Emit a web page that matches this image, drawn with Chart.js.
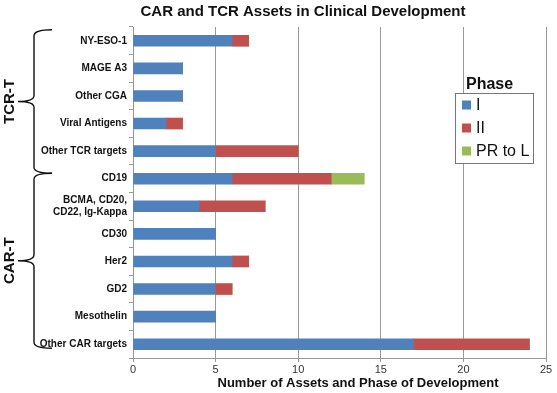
<!DOCTYPE html>
<html>
<head>
<meta charset="utf-8">
<script src="https://cdn.jsdelivr.net/npm/chart.js@4/dist/chart.umd.min.js"></script>
<style>
  body { margin: 0; background: #fff; }
  canvas { display: block; }
</style>
</head>
<body>
<canvas id="chart" width="557" height="393"></canvas>
<script>
var categories = ['NY-ESO-1', 'MAGE A3', 'Other CGA', 'Viral Antigens', 'Other TCR targets', 'CD19',
  ['BCMA, CD20,', 'CD22, Ig-Kappa'], 'CD30', 'Her2', 'GD2', 'Mesothelin', 'Other CAR targets'];
var phaseI = [6, 3, 3, 2, 5, 6, 4, 5, 6, 5, 5, 17];
var phaseII = [1, 0, 0, 1, 5, 6, 4, 0, 1, 1, 0, 7];
var phasePRtoL = [0, 0, 0, 0, 0, 2, 0, 0, 0, 0, 0, 0];
var seriesNames = ['I', 'II', 'PR to L'];
var xTicks = [0, 5, 10, 15, 20, 25];
var groups = [
  { label: 'TCR-T', from: 0, to: 4 },
  { label: 'CAR-T', from: 5, to: 11 }
];

var FONT = '"Liberation Sans", Arial, Helvetica, sans-serif';
var colors = ['#4F81BD', '#C0504D', '#9BBB59'];

function brace(ctx, top, bottom) {
  var x = 34, hook = 52, tip = 18, r = 6;
  var mid = (top + bottom) / 2;
  ctx.beginPath();
  ctx.moveTo(hook, top);
  ctx.quadraticCurveTo(x, top, x, top + r);
  ctx.lineTo(x, mid - r);
  ctx.quadraticCurveTo(x, mid, tip, mid);
  ctx.quadraticCurveTo(x, mid, x, mid + r);
  ctx.lineTo(x, bottom - r);
  ctx.quadraticCurveTo(x, bottom, hook, bottom);
  ctx.stroke();
}

var extras = {
  id: 'extras',
  afterDraw: function (chart) {
    var ctx = chart.ctx;
    var y = chart.scales.y;
    ctx.save();

    // title
    ctx.fillStyle = '#111';
    ctx.font = 'bold 15px ' + FONT;
    ctx.textAlign = 'center';
    ctx.textBaseline = 'middle';
    ctx.fillText('CAR and TCR Assets in Clinical Development', 303, 12);

    // x axis title
    ctx.font = 'bold 13px ' + FONT;
    ctx.fillText('Number of Assets and Phase of Development', 358, 383);

    // group braces
    ctx.strokeStyle = '#111';
    ctx.lineWidth = 1.4;
    var top0 = y.getPixelForValue(groups[0].from) - 11;
    var join = y.getPixelForValue(groups[1].from) - 5.5;
    var bot1 = y.getPixelForValue(groups[1].to) + 4;
    var spans = [[top0, join], [join, bot1]];
    ctx.font = 'bold 15px ' + FONT;
    groups.forEach(function (g, i) {
      brace(ctx, spans[i][0], spans[i][1]);
      ctx.save();
      ctx.translate(10, (spans[i][0] + spans[i][1]) / 2);
      ctx.rotate(-Math.PI / 2);
      ctx.textAlign = 'center';
      ctx.textBaseline = 'middle';
      ctx.fillText(g.label, 0, 0);
      ctx.restore();
    });

    // legend
    ctx.fillStyle = '#fff';
    ctx.fillRect(455, 93, 78, 70);
    ctx.strokeStyle = '#777';
    ctx.lineWidth = 1;
    ctx.strokeRect(455.5, 93.5, 78, 70);
    ctx.fillStyle = '#111';
    ctx.textAlign = 'left';
    ctx.textBaseline = 'alphabetic';
    ctx.font = 'bold 16px ' + FONT;
    ctx.fillText('Phase', 466, 89);
    ctx.font = '16px ' + FONT;
    ctx.textBaseline = 'middle';
    chart.data.datasets.forEach(function (ds, i) {
      var cy = 105 + i * 23;
      ctx.fillStyle = ds.backgroundColor;
      ctx.fillRect(462, cy - 4.5, 9, 9);
      ctx.fillStyle = '#111';
      ctx.fillText(ds.label, 476, cy + 1);
    });
    ctx.restore();
  }
};

new Chart(document.getElementById('chart'), {
  type: 'bar',
  data: {
    labels: categories,
    datasets: [
      { label: seriesNames[0], data: phaseI, backgroundColor: colors[0] },
      { label: seriesNames[1], data: phaseII, backgroundColor: colors[1] },
      { label: seriesNames[2], data: phasePRtoL, backgroundColor: colors[2] }
    ]
  },
  options: {
    indexAxis: 'y',
    responsive: false,
    animation: false,
    barThickness: 11,
    layout: { padding: { top: 27, left: 40, right: 11, bottom: 0 } },
    plugins: {
      legend: { display: false },
      title: { display: false },
      tooltip: { enabled: false }
    },
    scales: {
      x: {
        stacked: true,
        min: 0,
        max: 25,
        afterBuildTicks: function (scale) {
          scale.ticks = xTicks.map(function (v) { return { value: v }; });
        },
        afterFit: function (scale) { scale.height = 35; },
        grid: { color: '#999', lineWidth: 1, tickLength: 4 },
        border: { color: '#999' },
        ticks: { color: '#333', font: { family: FONT, size: 11 }, padding: 1 }
      },
      y: {
        stacked: true,
        afterFit: function (scale) { scale.width = 93; },
        grid: { drawOnChartArea: false, offset: true, tickLength: 4, color: '#999' },
        border: { color: '#999' },
        ticks: { color: '#111', font: { family: FONT, size: 10, weight: 'bold' }, padding: 2 }
      }
    }
  },
  plugins: [extras]
});
</script>
</body>
</html>
